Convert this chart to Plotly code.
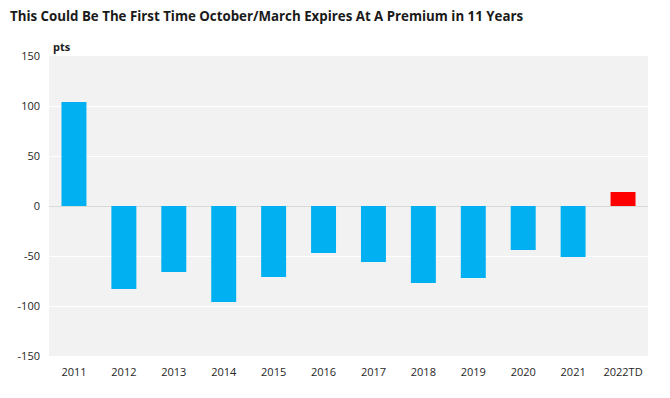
import plotly.graph_objects as go

years = ["2011", "2012", "2013", "2014", "2015", "2016", "2017", "2018", "2019", "2020", "2021", "2022TD"]
values = [104, -83, -66, -96, -71, -47, -56, -77, -72, -44, -51, 14]
colors = ["#00B0F0"] * 11 + ["#FF0000"]
ytick_vals = [-150, -100, -50, 0, 50, 100, 150]
ytick_text = ["-150", "-100", "-50", "0", "50", "100", "150"]

fig = go.Figure(go.Bar(x=years, y=values, marker=dict(color=colors, line=dict(width=0)), width=0.5))

# page body has an 8px margin; compensate so the plot lands where the reference has it
fig.update_layout(
    width=654, height=382,
    margin=dict(l=41, r=14, t=48, b=34),
    paper_bgcolor="white",
    plot_bgcolor="#F2F2F2",
    font=dict(family="Open Sans", size=11, color="#262626"),
    showlegend=False,
    annotations=[
        dict(text="<b>This Could Be The First Time October/March Expires At A Premium in 11 Years</b>",
             xref="paper", yref="paper", x=-41 / 599, y=1 + 40 / 300, xanchor="left", yanchor="middle",
             showarrow=False, font=dict(family="Open Sans", size=13.3, color="#1a1a1a")),
        dict(text="<b>pts</b>", xref="paper", yref="paper", x=0.004, y=1.0,
             xanchor="left", yanchor="bottom", showarrow=False,
             font=dict(family="Open Sans", size=11, color="#1a1a1a")),
    ],
)
fig.update_yaxes(range=[-150, 150], tickvals=ytick_vals, ticktext=ytick_text, automargin=False,
                 gridcolor="white", gridwidth=1, zeroline=True, zerolinecolor="#D9D9D9",
                 zerolinewidth=1, ticks="", showline=False, ticklabelstandoff=8)
fig.update_xaxes(showgrid=False, ticks="", showline=False, automargin=False, ticklabelstandoff=8)

fig.write_html("out.html")
